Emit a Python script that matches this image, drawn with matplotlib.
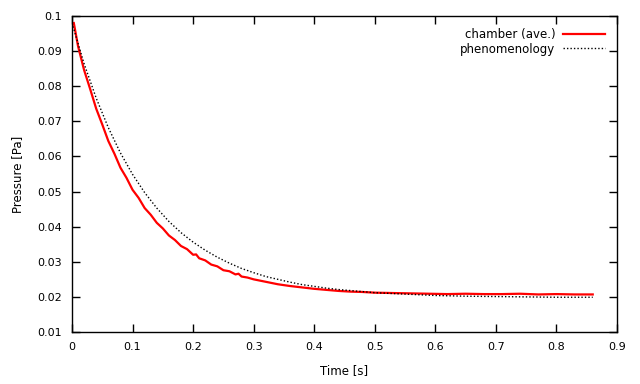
import matplotlib
matplotlib.use("Agg")
import matplotlib.pyplot as plt

# chamber (ave.)
t_chamber = [0.003, 0.01, 0.02, 0.03, 0.04, 0.05, 0.06, 0.07, 0.08, 0.09,
             0.10, 0.11, 0.12, 0.13, 0.14, 0.15, 0.16, 0.17, 0.18, 0.19,
             0.20, 0.205, 0.21, 0.22, 0.23, 0.24, 0.25, 0.26, 0.27, 0.275,
             0.28, 0.29, 0.30, 0.32, 0.34, 0.36, 0.38, 0.40, 0.42, 0.44,
             0.46, 0.48, 0.50, 0.53, 0.56, 0.59, 0.62, 0.65, 0.68, 0.71,
             0.74, 0.77, 0.80, 0.83, 0.86]
p_chamber = [0.0980, 0.0914, 0.0846, 0.0792, 0.0736, 0.0691, 0.0644, 0.0608, 0.0568, 0.0539,
             0.0505, 0.0482, 0.0453, 0.0434, 0.0411, 0.0395, 0.0375, 0.0362, 0.0345, 0.0336,
             0.0320, 0.0321, 0.0310, 0.0304, 0.0292, 0.0287, 0.0276, 0.0273, 0.0264, 0.0266,
             0.0258, 0.0255, 0.0250, 0.0243, 0.0236, 0.0231, 0.0227, 0.0223, 0.0220, 0.0217,
             0.0215, 0.0214, 0.0212, 0.0211, 0.0210, 0.0209, 0.0208, 0.0209, 0.0208, 0.0208,
             0.0209, 0.0207, 0.0208, 0.0207, 0.0207]

# phenomenology
t_model = [0.0, 0.02, 0.04, 0.06, 0.08, 0.10, 0.12, 0.14, 0.16, 0.18,
           0.20, 0.22, 0.24, 0.26, 0.28, 0.30, 0.32, 0.34, 0.36, 0.38,
           0.40, 0.42, 0.44, 0.46, 0.48, 0.50, 0.55, 0.60, 0.65, 0.70,
           0.75, 0.80, 0.86]
p_model = [0.0980, 0.0864, 0.0766, 0.0682, 0.0610, 0.0549, 0.0497, 0.0453, 0.0415, 0.0383,
           0.0356, 0.0333, 0.0313, 0.0296, 0.0281, 0.0269, 0.0258, 0.0250, 0.0242, 0.0235,
           0.0230, 0.0225, 0.0221, 0.0218, 0.0215, 0.0212, 0.0208, 0.0204, 0.0202, 0.0201,
           0.0200, 0.0199, 0.0199]

x_ticks = [0, 0.1, 0.2, 0.3, 0.4, 0.5, 0.6, 0.7, 0.8, 0.9]
x_labels = ["0", "0.1", "0.2", "0.3", "0.4", "0.5", "0.6", "0.7", "0.8", "0.9"]
y_ticks = [0.01, 0.02, 0.03, 0.04, 0.05, 0.06, 0.07, 0.08, 0.09, 0.1]
y_labels = ["0.01", "0.02", "0.03", "0.04", "0.05", "0.06", "0.07", "0.08", "0.09", "0.1"]

plt.rcParams['font.family'] = ['DejaVu Sans']
fig = plt.figure(figsize=(6.4, 3.84), dpi=100)
ax = fig.add_axes([0.1125, 0.1354, 0.8515, 0.8229])

ax.plot(t_chamber, p_chamber, color='red', lw=1.6, label='chamber (ave.)')
ax.plot(t_model, p_model, color='black', lw=1.0, linestyle=(0, (1, 1.5)),
        label='phenomenology')

ax.set_xlim(0, 0.9)
ax.set_ylim(0.01, 0.1)
ax.set_xticks(x_ticks)
ax.set_xticklabels(x_labels)
ax.set_yticks(y_ticks)
ax.set_yticklabels(y_labels)
ax.tick_params(direction='in', top=True, right=True, length=6, width=1,
               labelsize=8, pad=7)
for s in ax.spines.values():
    s.set_linewidth(1)

ax.set_xlabel('Time [s]', fontsize=8.5, labelpad=9)
ax.set_ylabel('Pressure [Pa]', fontsize=8.5, labelpad=10)

ax.legend(loc='upper right', frameon=False, markerfirst=False, fontsize=8.5,
          handlelength=3.6, handletextpad=0.6, labelspacing=0.15,
          borderaxespad=0.6)

fig.savefig('out.png', dpi=100)
